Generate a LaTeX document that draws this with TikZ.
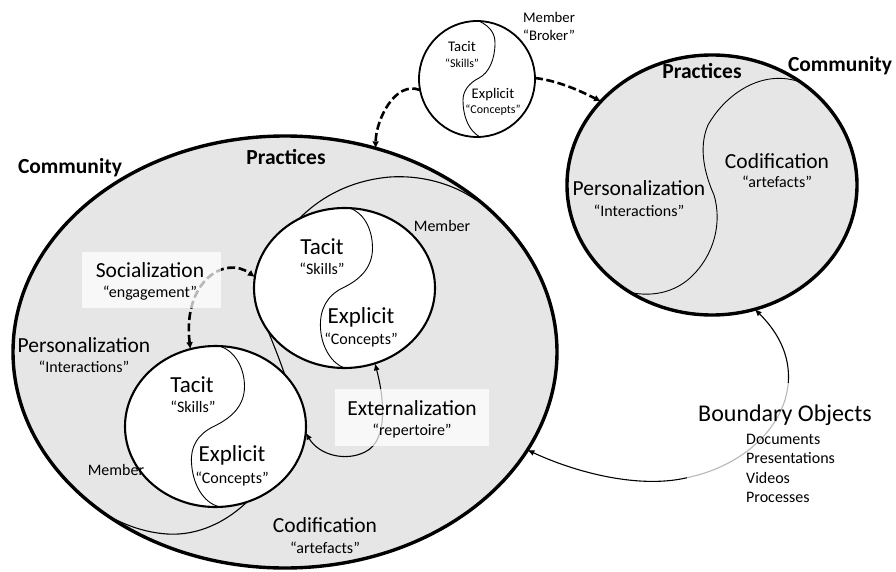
\documentclass[tikz,border=0pt]{standalone}
\usepackage{fontspec}
\setmainfont{Carlito}
\usetikzlibrary{shapes.geometric,arrows.meta}
\definecolor{commfill}{RGB}{230,230,230}
\begin{document}
\begin{tikzpicture}[x=1pt,y=-1pt,
  community/.style={ellipse,draw,line width=3.4pt,fill=commfill,inner sep=0pt,outer sep=0pt},
  member/.style={ellipse,draw,line width=2.1pt,fill=white,inner sep=0pt,outer sep=0pt},
  divider/.style={line width=0.9pt},
  shell/.style={line width=1.1pt},
  head/.style={font=\fontsize{21.5}{25}\selectfont\bfseries,text height=13.6pt,text depth=0pt,inner sep=0pt},
  big/.style={font=\fontsize{23}{27}\selectfont,text height=14.8pt,text depth=0pt,inner sep=0pt},
  mid/.style={font=\fontsize{21.5}{25}\selectfont,text height=13.8pt,text depth=0pt,inner sep=0pt},
  sub/.style={font=\fontsize{16}{19}\selectfont,text height=10.3pt,text depth=0pt,inner sep=0pt},
  tiny/.style={font=\fontsize{12}{14}\selectfont,text height=7.7pt,text depth=0pt,inner sep=0pt},
  small/.style={font=\fontsize{14.7}{17}\selectfont,text height=9.5pt,text depth=0pt,inner sep=0pt},
  listitem/.style={font=\fontsize{16}{19}\selectfont,text height=10.3pt,text depth=0pt,inner sep=0pt,anchor=west},
  flow/.style={line width=2.6pt,dash pattern=on 8pt off 3.5pt,-{Latex[length=7pt,width=7pt]}},
  flowboth/.style={line width=2.6pt,dash pattern=on 8pt off 3.5pt,{Latex[length=7pt,width=7pt]}-{Latex[length=7pt,width=7pt]}},
  link/.style={line width=1.1pt,{Latex[length=7pt,width=6pt]}-{Latex[length=7pt,width=6pt]}},
  veil/.style={fill=white,fill opacity=0.72,draw=none,inner sep=0pt,outer sep=0pt}
]
\useasboundingbox (0,0) rectangle (896,572);

% communities
\node[community,minimum width=544pt,minimum height=432pt] (comL) at (285,352) {};
\node[community,minimum width=290pt,minimum height=260pt] (comR) at (712,185) {};

% members' spheres of practice inside the left community
\begin{scope}
  \clip (285,352) ellipse [x radius=272pt, y radius=216pt];
  \draw[shell] (296,222) .. controls (322,194) and (355,180) .. (390,177)
                         .. controls (420,175) and (452,183) .. (476,200);
  \draw[shell] (266,326) .. controls (273,343) and (279,358) .. (286,378);
  \draw[shell] (252,497) .. controls (228,522) and (198,536) .. (167,534)
                         .. controls (138,532) and (112,520) .. (90,504);
\end{scope}

% members
\node[member,minimum width=181pt,minimum height=160pt] (m1) at (344.5,288) {};
\node[member,minimum width=181pt,minimum height=161pt] (m2) at (215.5,426.5) {};
\node[member,line width=1.8pt,minimum width=116pt,minimum height=116pt] (broker) at (477,79) {};

% tacit / explicit dividers
\begin{scope}[shift={(344.5,288)}]
  \draw[divider] (5,-80) .. controls (20,-75) and (28,-58) .. (28,-40)
                 .. controls (28,-20) and (15,-8) .. (-2,0)
                 .. controls (-18,8) and (-25,22) .. (-24,40)
                 .. controls (-23,60) and (-12,76) .. (0,80);
\end{scope}
\begin{scope}[shift={(215.5,426.5)}]
  \draw[divider] (5,-80) .. controls (20,-75) and (29,-58) .. (29,-40)
                 .. controls (29,-20) and (15,-8) .. (-2,0)
                 .. controls (-18,8) and (-25,20) .. (-24,36)
                 .. controls (-23,58) and (-12,76) .. (3,80);
\end{scope}
\begin{scope}[shift={(477,79)}]
  \draw[divider] (2,-58) .. controls (14,-52) and (18,-45) .. (18,-36)
                 .. controls (18,-20) and (12,-6) .. (2,-1)
                 .. controls (-8,4) and (-14,12) .. (-14,21)
                 .. controls (-14,38) and (-8,52) .. (3,58);
\end{scope}

% personalization / codification divider of the right community
\draw[divider] (797,81) .. controls (760,70) and (725,95) .. (708,125)
               .. controls (698,148) and (705,175) .. (714,195)
               .. controls (722,222) and (715,255) .. (690,278)
               .. controls (672,294) and (650,296) .. (633,293);

% left community labels
\node[head] (lcomm) at (70,167) {Community};
\node[head] (lprac) at (286,158) {Practices};
\node[big] (tac1) at (322,247) {Tacit};
\node[sub] (ski1) at (322,269) {“Skills”};
\node[big] (exp1) at (361,316) {Explicit};
\node[sub] (con1) at (361,339) {“Concepts”};
\node[sub] (mem1) at (442,226) {Member};
\node[big] (tac2) at (192,385) {Tacit};
\node[sub] (ski2) at (193,407) {“Skills”};
\node[big] (exp2) at (232,454) {Explicit};
\node[sub] (con2) at (232,478) {“Concepts”};
\node[sub] (mem2) at (116,470) {Member};
\node[mid] (pers1) at (84,346) {Personalization};
\node[sub] (int1) at (84,367) {“Interactions”};
\node[mid] (cod1) at (325,526) {Codification};
\node[sub] (art1) at (325,548) {“artefacts”};

% right community labels
\node[head] (rcomm) at (840,65) {Community};
\node[head] (rprac) at (702,72) {Practices};
\node[mid] (pers2) at (639,189) {Personalization};
\node[sub] (int2) at (639,211) {“Interactions”};
\node[mid] (cod2) at (777,162) {Codification};
\node[sub] (art2) at (777,182) {“artefacts”};

% broker labels
\node[small] (tac3) at (462,47) {Tacit};
\node[tiny] (ski3) at (462,64) {“Skills”};
\node[small] (exp3) at (493,94) {Explicit};
\node[tiny] (con3) at (493,110) {“Concepts”};
\node[small] (mem3) at (549,18) {Member};
\node[small] (bro3) at (549,36) {“Broker”};

% knowledge flows
\draw[flow] (broker.191) .. controls +(-25,-10) and +(0,-28) .. (comL.66);
\draw[flow] (broker.1) .. controls +(25,3) and +(-18,-9) .. (comR.143);
\draw[flowboth] (m2.108) .. controls +(-8,-68) and +(-30,-22) .. (m1.173);
\draw[link] (m2.356) .. controls +(13,22) and +(-20,10) .. (365,452)
            .. controls +(25,-12) and +(8,30) .. (m1.292);
\draw[link] (comL.338) .. controls +(47,22) and +(-50,13) .. (690,477)
            .. controls +(85,-19) and +(68,67) .. (comR.289);

% translucent label panels
\node[veil,minimum width=139pt,minimum height=56pt] (socbox) at (151.5,280) {};
\node[veil,minimum width=154pt,minimum height=57pt] (extbox) at (412,417.5) {};
\node[veil,minimum width=195pt,minimum height=125pt] (bobox) at (784.5,445.5) {};

\node[mid] (soc) at (150,271) {Socialization};
\node[sub] (eng) at (150,292) {“engagement”};
\node[mid] (ext) at (412,409) {Externalization};
\node[sub] (rep) at (412,430) {“repertoire”};

% boundary objects
\node[font=\fontsize{24}{28}\selectfont,text height=15.5pt,text depth=0pt,inner sep=0pt] (bobj) at (785,414) {Boundary Objects};
\node[listitem] (doc) at (746,439) {Documents};
\node[listitem] (pres) at (746,458) {Presentations};
\node[listitem] (vid) at (746,478) {Videos};
\node[listitem] (proc) at (746,497) {Processes};
\end{tikzpicture}
\end{document}
